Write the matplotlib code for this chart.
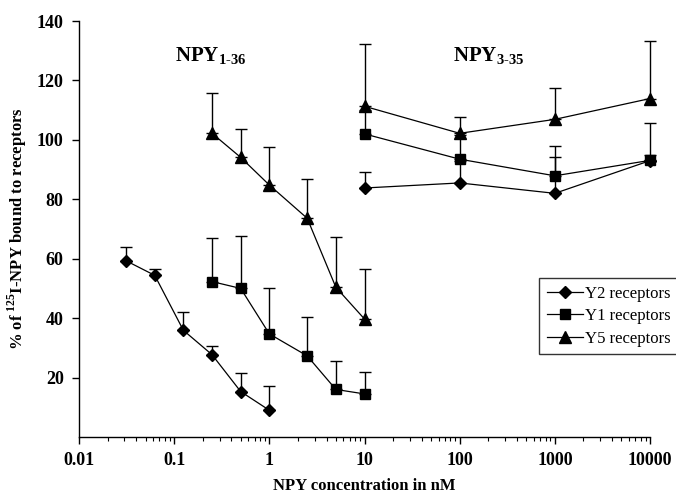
import matplotlib
matplotlib.use("Agg")
import matplotlib.pyplot as plt
from matplotlib.ticker import LogLocator, NullFormatter, FixedLocator, FixedFormatter

plt.rcParams['font.family'] = ['Liberation Serif', 'DejaVu Serif']
plt.rcParams['mathtext.fontset'] = 'custom'
plt.rcParams['mathtext.rm'] = 'Liberation Serif:bold'
plt.rcParams['mathtext.bf'] = 'Liberation Serif:bold'

# NPY1-36 competition
y2_x = [0.03125, 0.0625, 0.125, 0.25, 0.5, 1]
y2_y = [59.3, 54.4, 35.9, 27.7, 15.3, 9.0]
y2_err = [4.7, 2.3, 6.2, 3.0, 6.1, 8.2]

y1_x = [0.25, 0.5, 1, 2.5, 5, 10]
y1_y = [52.3, 50.0, 34.7, 27.3, 16.0, 14.5]
y1_err = [14.7, 17.6, 15.6, 13.0, 9.7, 7.3]

y5_x = [0.25, 0.5, 1, 2.5, 5, 10]
y5_y = [102.2, 94.1, 84.8, 73.6, 50.4, 39.7]
y5_err = [13.5, 9.7, 12.9, 13.2, 16.8, 16.8]

# NPY3-35 competition
b_x = [10, 100, 1000, 10000]
y2b_y = [83.8, 85.5, 82.0, 93.0]
y2b_err = [5.5, 7.5, 12.3, 2.0]
y1b_y = [102.0, 93.5, 87.9, 93.1]
y1b_err = [8.0, 8.0, 10.2, 12.7]
y5b_y = [111.3, 102.2, 106.9, 113.9]
y5b_err = [21.1, 5.6, 10.7, 19.5]

xticks = [0.01, 0.1, 1, 10, 100, 1000, 10000]
xticklabels = ['0.01', '0.1', '1', '10', '100', '1000', '10000']
yticks = [20, 40, 60, 80, 100, 120, 140]

fig = plt.figure(figsize=(6.76, 4.96), dpi=100)
ax = fig.add_axes([79/676, (496-437)/496, (650-79)/676, (437-21)/496])

series = [
    (y2_x, y2_y, y2_err, 'D', 6.5, 'Y2 receptors'),
    (y1_x, y1_y, y1_err, 's', 7.5, 'Y1 receptors'),
    (y5_x, y5_y, y5_err, '^', 8.5, 'Y5 receptors'),
]
series_b = [
    (b_x, y2b_y, y2b_err, 'D', 6.5),
    (b_x, y1b_y, y1b_err, 's', 7.5),
    (b_x, y5b_y, y5b_err, '^', 8.5),
]


def draw(x, y, e, m, ms, lab=None):
    _, caps, bars = ax.errorbar(x, y, yerr=[[0]*len(e), e], fmt='none', ecolor='black',
                                elinewidth=1.0, capsize=4, capthick=1.0, zorder=2)
    for c in caps:
        c.set_clip_on(False)
    for b in bars:
        b.set_clip_on(False)
    h, = ax.plot(x, y, color='black', lw=0.9, marker=m, ms=ms, mfc='black',
                 mec='black', label=lab, zorder=3, clip_on=False)
    return h


handles = [draw(*s) for s in series]
for s in series_b:
    draw(*s)

ax.set_xscale('log')
ax.set_xlim(0.01, 10000)
ax.set_ylim(0, 140)
ax.xaxis.set_major_locator(FixedLocator(xticks))
ax.xaxis.set_major_formatter(FixedFormatter(xticklabels))
ax.xaxis.set_minor_locator(LogLocator(base=10, subs=range(2, 10), numticks=20))
ax.xaxis.set_minor_formatter(NullFormatter())
ax.set_yticks(yticks)

for s in ['top', 'right']:
    ax.spines[s].set_visible(False)
for s in ['left', 'bottom']:
    ax.spines[s].set_linewidth(1.0)
ax.tick_params(axis='both', which='major', direction='out', length=5, width=1.0,
               labelsize=13, pad=6)
ax.tick_params(axis='x', which='minor', direction='out', length=3, width=0.8)
for lab in ax.get_xticklabels() + ax.get_yticklabels():
    lab.set_fontweight('bold')

ax.set_xlabel('NPY concentration in nM', fontsize=12, fontweight='bold', labelpad=6)
ax.set_ylabel(r'% of $^{125}$I-NPY bound to receptors', fontsize=12,
              fontweight='bold', labelpad=6)

ax.text(0.168, 0.915, r'NPY$_{\text{1-36}}$', transform=ax.transAxes,
        fontsize=15, fontweight='bold', ha='left', va='center')
ax.text(0.655, 0.915, r'NPY$_{\text{3-35}}$', transform=ax.transAxes,
        fontsize=15, fontweight='bold', ha='left', va='center')

leg = fig.legend(handles=handles, loc='upper left',
                 bbox_to_anchor=(539/676, 1-278/496), fontsize=12,
                 frameon=True, fancybox=False, edgecolor='black',
                 handlelength=2.2, handletextpad=0.1, borderpad=0.45,
                 labelspacing=0.4, borderaxespad=0)
leg.get_frame().set_linewidth(1.0)

fig.savefig('out.png', dpi=100)
